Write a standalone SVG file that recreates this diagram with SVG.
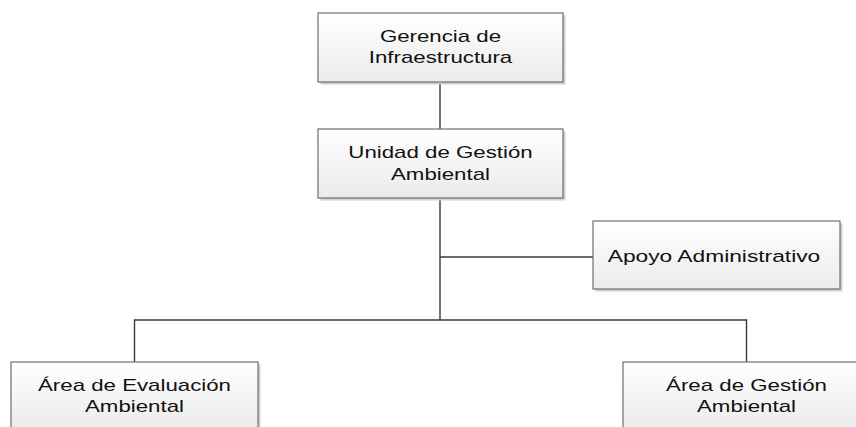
<svg xmlns="http://www.w3.org/2000/svg" width="856" height="427" viewBox="0 0 856 427">
<defs>
<linearGradient id="g" x1="0" y1="0" x2="0" y2="1">
<stop offset="0" stop-color="#ffffff"/>
<stop offset="1" stop-color="#ebebeb"/>
</linearGradient>
<style>
.box{fill:url(#g);stroke:#6e6e6e;stroke-width:1.2}
.sh{fill:#d0d0d0}
.t{font-family:"Liberation Sans",Arial,sans-serif;font-size:17px;fill:#111;text-anchor:middle}
.c{stroke:#3a3a3a;stroke-width:1.4;fill:none}
</style>
</defs>
<rect width="856" height="427" fill="#ffffff"/>
<g id="connectors">
<line class="c" x1="440" y1="82" x2="440" y2="129"/>
<line class="c" x1="440" y1="198" x2="440" y2="320"/>
<line class="c" x1="440" y1="257" x2="593" y2="257"/>
<polyline class="c" points="134.5,362 134.5,320 746.5,320 746.5,362"/>
</g>
<g id="gerencia">
<rect class="sh" x="320.5" y="15.5" width="245" height="69"/>
<rect class="box" x="318" y="13" width="245" height="69"/>
<text class="t" transform="translate(440.5,42) scale(1.31,1)">Gerencia de</text>
<text class="t" transform="translate(440.5,63) scale(1.31,1)">Infraestructura</text>
</g>
<g id="unidad">
<rect class="sh" x="320.5" y="131.5" width="245" height="69"/>
<rect class="box" x="318" y="129" width="245" height="69"/>
<text class="t" transform="translate(440.5,158) scale(1.31,1)">Unidad de Gestión</text>
<text class="t" transform="translate(440.5,180) scale(1.31,1)">Ambiental</text>
</g>
<g id="apoyo">
<rect class="sh" x="595.5" y="223.5" width="247" height="68"/>
<rect class="box" x="593" y="221" width="247" height="68"/>
<text class="t" transform="translate(714,262) scale(1.34,1)">Apoyo Administrativo</text>
</g>
<g id="evaluacion">
<rect class="sh" x="13.5" y="364.5" width="247" height="69"/>
<rect class="box" x="11" y="362" width="247" height="69"/>
<text class="t" transform="translate(134.5,391) scale(1.31,1)">Área de Evaluación</text>
<text class="t" transform="translate(134.5,412) scale(1.31,1)">Ambiental</text>
</g>
<g id="gestion">
<rect class="sh" x="625.5" y="364.5" width="247" height="69"/>
<rect class="box" x="623" y="362" width="247" height="69"/>
<text class="t" transform="translate(746.5,391) scale(1.31,1)">Área de Gestión</text>
<text class="t" transform="translate(746.5,412) scale(1.31,1)">Ambiental</text>
</g>
</svg>
